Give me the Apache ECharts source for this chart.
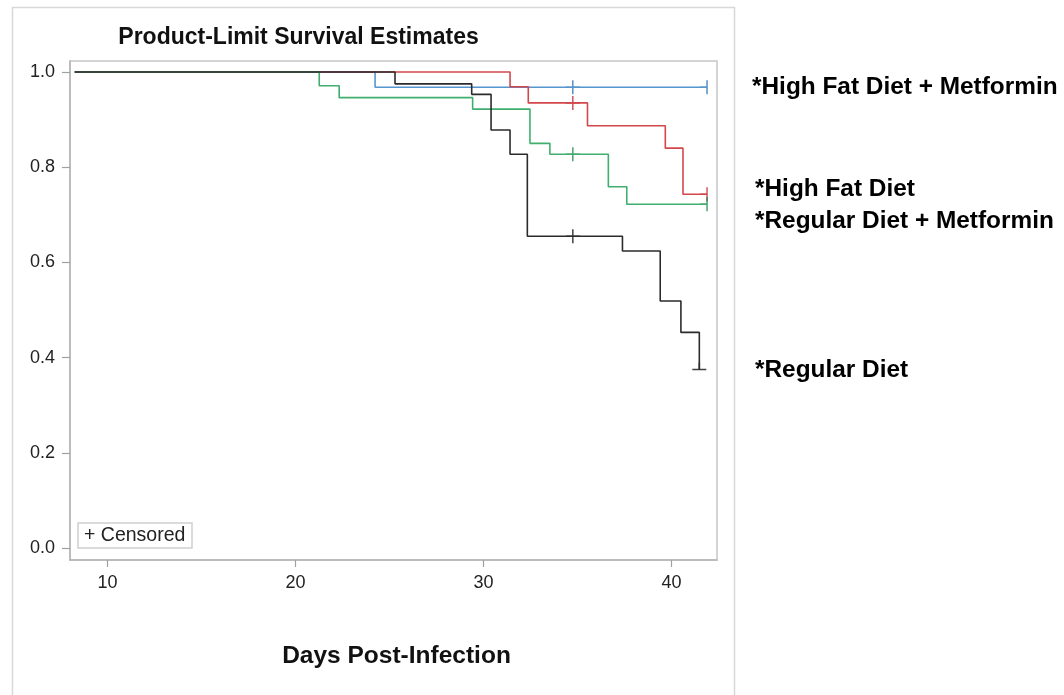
<!DOCTYPE html>
<html>
<head>
<meta charset="utf-8">
<script src="https://cdn.jsdelivr.net/npm/echarts@6/dist/echarts.min.js"></script>
<style>
  html, body { margin: 0; padding: 0; background: #ffffff; }
  #chart { width: 1064px; height: 695px; }
</style>
</head>
<body>
<div id="chart"></div>
<script>
// Kaplan-Meier survival estimates per diet group (day, survival probability)
const hfdMetTimes = [8.25, 24.23, 41.89];
const hfdMetSurv  = [1.0, 0.968, 0.968];

const hfdTimes = [8.25, 31.41, 32.38, 35.53, 39.67, 40.61, 41.89];
const hfdSurv  = [1.0, 0.969, 0.935, 0.887, 0.840, 0.743, 0.743];

const regMetTimes = [8.25, 21.26, 22.32, 29.42, 32.47, 33.53, 36.64, 37.62, 41.89];
const regMetSurv  = [1.0, 0.971, 0.946, 0.922, 0.850, 0.827, 0.759, 0.722, 0.722];

const regTimes = [8.25, 25.29, 29.37, 30.40, 31.41, 32.33, 37.39, 39.40, 40.50, 41.48];
const regSurv  = [1.0, 0.975, 0.953, 0.878, 0.827, 0.655, 0.624, 0.519, 0.453, 0.375];

// Censored observations (day, survival at that time)
const hfdMetCensT = [34.75, 41.89];  const hfdMetCensS = [0.968, 0.968];
const hfdCensT    = [34.75, 41.89];  const hfdCensS    = [0.935, 0.743];
const regMetCensT = [34.75, 41.89];  const regMetCensS = [0.827, 0.722];
const regCensT    = [34.75, 41.48];  const regCensS    = [0.655, 0.375];

const xTicks = [10, 20, 30, 40];
const yTicks = [0, 0.2, 0.4, 0.6, 0.8, 1.0];

const groupLabels = [
  { text: '*High Fat Diet + Metformin', y: 87 },
  { text: '*High Fat Diet', y: 189 },
  { text: '*Regular Diet + Metformin', y: 221 },
  { text: '*Regular Diet', y: 370 }
];

const FONT = '"Liberation Sans", Arial, sans-serif';
const zip = (a, b) => a.map((v, i) => [v, b[i]]);

// Censor marks: full plus inside a curve; at the end of a curve the mark is
// cut at the curve's end (the zero-length segments keep the mark centred).
const PLUS     = 'path://M5,0 L5,10 M0,5 L10,5';
const PLUS_END = 'path://M5,0 L5,10 M0,5 L5,5 M10,5 L10,5';
const PLUS_LOW = 'path://M0,5 L10,5 M5,0 L5,5 M5,10 L5,10';

function curve(name, t, s, color) {
  return {
    name, type: 'line', step: 'end', data: zip(t, s),
    showSymbol: false, silent: true,
    lineStyle: { color, width: 1.6 }
  };
}
function censored(name, t, s, color, endSymbol) {
  return {
    name: name + ' censored', type: 'scatter',
    data: zip(t, s).map((p, i, arr) => ({
      value: p, symbol: i === arr.length - 1 ? endSymbol : PLUS
    })),
    symbolSize: 14, silent: true,
    itemStyle: { color: 'none', borderColor: color, borderWidth: 1.5 }
  };
}

const chart = echarts.init(document.getElementById('chart'), null, { renderer: 'canvas' });

chart.setOption({
  animation: false,
  backgroundColor: '#ffffff',
  grid: {
    left: 70, right: 347, top: 61, bottom: 135,
    show: true, borderColor: '#c6c6c6', borderWidth: 1.5, backgroundColor: 'transparent'
  },
  xAxis: {
    type: 'value', min: 8, max: 42.42,
    splitLine: { show: false },
    axisLine: { show: true, onZero: false, lineStyle: { color: '#b4b4b4', width: 1.5 } },
    axisTick: { show: true, customValues: xTicks, length: 7, lineStyle: { color: '#a0a0a0', width: 1.2 } },
    axisLabel: { customValues: xTicks, margin: 14, fontSize: 18, color: '#222', fontFamily: FONT }
  },
  yAxis: {
    type: 'value', min: -0.025, max: 1.023,
    splitLine: { show: false },
    axisLine: { show: true, onZero: false, lineStyle: { color: '#b4b4b4', width: 1.5 } },
    axisTick: { show: true, customValues: yTicks, length: 8, lineStyle: { color: '#a0a0a0', width: 1.2 } },
    axisLabel: {
      customValues: yTicks, margin: 15, fontSize: 18, color: '#222', fontFamily: FONT,
      formatter: v => v.toFixed(1)
    }
  },
  series: [
    curve('High Fat Diet + Metformin', hfdMetTimes, hfdMetSurv, '#5596d0'),
    curve('High Fat Diet', hfdTimes, hfdSurv, '#d2474b'),
    curve('Regular Diet + Metformin', regMetTimes, regMetSurv, '#3fae6e'),
    curve('Regular Diet', regTimes, regSurv, '#2b2b2b'),
    censored('High Fat Diet + Metformin', hfdMetCensT, hfdMetCensS, '#2f73b3', PLUS_END),
    censored('High Fat Diet', hfdCensT, hfdCensS, '#c02a2e', PLUS_END),
    censored('Regular Diet + Metformin', regMetCensT, regMetCensS, '#1d8a4c', PLUS_END),
    censored('Regular Diet', regCensT, regCensS, '#111111', PLUS_LOW)
  ],
  graphic: [
    {
      type: 'rect', silent: true, z: -1,
      shape: { x: 12.5, y: 7.5, width: 722, height: 720 },
      style: { fill: 'none', stroke: '#d8d8d8', lineWidth: 1.5 }
    },
    {
      type: 'text', silent: true, x: 298.5, y: 38,
      style: { text: 'Product-Limit Survival Estimates', font: 'bold 23px ' + FONT,
               fill: '#111', textAlign: 'center', textVerticalAlign: 'middle' }
    },
    {
      type: 'text', silent: true, x: 396.5, y: 656,
      style: { text: 'Days Post-Infection', font: 'bold 24.5px ' + FONT,
               fill: '#111', textAlign: 'center', textVerticalAlign: 'middle' }
    },
    {
      type: 'group', silent: true, x: 78, y: 523,
      children: [
        { type: 'rect', shape: { x: 0, y: 0, width: 114, height: 25 },
          style: { fill: '#fff', stroke: '#cfcfcf', lineWidth: 1.5 } },
        { type: 'text', x: 6, y: 13,
          style: { text: '+ Censored', font: '19.5px ' + FONT, fill: '#222',
                   textAlign: 'left', textVerticalAlign: 'middle' } }
      ]
    }
  ].concat(groupLabels.map((g, i) => ({
    type: 'text', silent: true, x: i === 0 ? 752 : 755, y: g.y,
    style: { text: g.text, font: 'bold 24.4px ' + FONT, fill: '#000',
             textAlign: 'left', textVerticalAlign: 'middle' }
  })))
});
</script>
</body>
</html>
